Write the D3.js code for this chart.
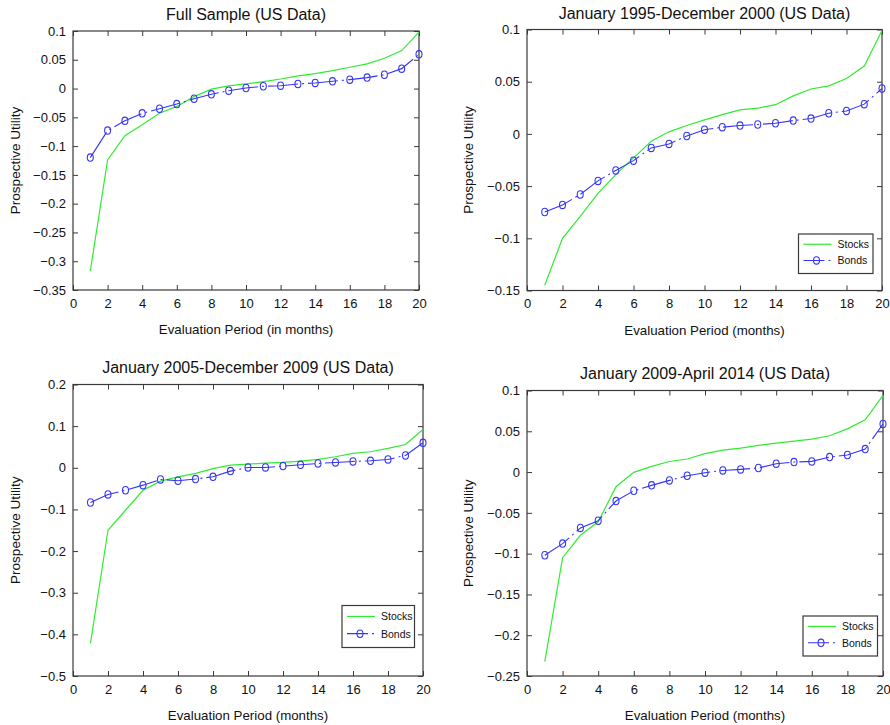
<!DOCTYPE html>
<html><head><meta charset="utf-8">
<script src="https://cdn.jsdelivr.net/npm/d3@7"></script>
<style>
body{margin:0;background:#fff}
svg{display:block}
text{font-family:"Liberation Sans",Arial,Helvetica,sans-serif;fill:#111}
</style>
</head><body>
<svg id="c" width="890" height="725"></svg>
<script>
// ---------- data ----------
const months = [1,2,3,4,5,6,7,8,9,10,11,12,13,14,15,16,17,18,19,20];
const xTickValues = [0,2,4,6,8,10,12,14,16,18,20];
const seriesNames = ["Stocks","Bonds"];

const titles = [
  "Full Sample (US Data)",
  "January 1995-December 2000 (US Data)",
  "January 2005-December 2009 (US Data)",
  "January 2009-April 2014 (US Data)"
];
const xLabels = [
  "Evaluation Period (in months)",
  "Evaluation Period (months)",
  "Evaluation Period (months)",
  "Evaluation Period (months)"
];
const yLabel = "Prospective Utility";

const fullStocks = [-0.317,-0.124,-0.082,-0.063,-0.043,-0.031,-0.014,-0.001,0.0045,0.008,0.012,0.0166,0.022,0.026,0.031,0.037,0.043,0.0526,0.066,0.098];
const fullBonds  = [-0.12,-0.073,-0.056,-0.043,-0.035,-0.027,-0.0176,-0.010,-0.0037,0.001,0.004,0.005,0.008,0.0097,0.0126,0.0155,0.019,0.024,0.0346,0.0595];
const fullYTicks = [0.1,0.05,0,-0.05,-0.1,-0.15,-0.2,-0.25,-0.3,-0.35];
const fullYDomain = [-0.35,0.1];

const p9500Stocks = [-0.145,-0.100,-0.079,-0.057,-0.039,-0.023,-0.007,0.002,0.008,0.0134,0.0185,0.023,0.0246,0.028,0.0364,0.043,0.046,0.053,0.065,0.099];
const p9500Bonds  = [-0.0748,-0.068,-0.058,-0.045,-0.035,-0.0256,-0.0134,-0.0096,-0.002,0.004,0.0064,0.008,0.009,0.0102,0.0128,0.0147,0.0198,0.022,0.0285,0.0435];
const p9500YTicks = [0.1,0.05,0,-0.05,-0.1,-0.15];
const p9500YDomain = [-0.15,0.1];

const p0509Stocks = [-0.421,-0.150,-0.102,-0.054,-0.032,-0.022,-0.0136,-0.002,0.0064,0.0088,0.011,0.0128,0.016,0.020,0.0265,0.0345,0.0385,0.0465,0.056,0.092];
const p0509Bonds  = [-0.0834,-0.064,-0.054,-0.0417,-0.028,-0.031,-0.027,-0.0217,-0.008,0.0008,0.0008,0.004,0.0072,0.0104,0.0128,0.0152,0.0168,0.020,0.0297,0.060];
const p0509YTicks = [0.2,0.1,0,-0.1,-0.2,-0.3,-0.4,-0.5];
const p0509YDomain = [-0.5,0.2];

const p0914Stocks = [-0.2325,-0.105,-0.0775,-0.061,-0.018,-0.0004,0.007,0.013,0.016,0.0226,0.027,0.0294,0.0327,0.0355,0.038,0.0404,0.0445,0.053,0.064,0.094];
const p0914Bonds  = [-0.102,-0.0877,-0.0685,-0.0596,-0.0355,-0.0229,-0.0163,-0.0102,-0.0045,-0.0008,0.002,0.0033,0.005,0.0103,0.0123,0.0131,0.0184,0.0209,0.0282,0.059];
const p0914YTicks = [0.1,0.05,0,-0.05,-0.1,-0.15,-0.2,-0.25];
const p0914YDomain = [-0.25,0.1];

const panelData = [
  {stocks: fullStocks, bonds: fullBonds, yTicks: fullYTicks, yDomain: fullYDomain, legend: false},
  {stocks: p9500Stocks, bonds: p9500Bonds, yTicks: p9500YTicks, yDomain: p9500YDomain, legend: true},
  {stocks: p0509Stocks, bonds: p0509Bonds, yTicks: p0509YTicks, yDomain: p0509YDomain, legend: true},
  {stocks: p0914Stocks, bonds: p0914Bonds, yTicks: p0914YTicks, yDomain: p0914YDomain, legend: true}
];

// ---------- layout (pixels) ----------
const layouts = [
  {x0:73,  x1:419, y0:31,  y1:290, titleY:19.5, yLabX:20,  legend:null},
  {x0:527, x1:882, y0:29.5,y1:290.5, titleY:18.5, yLabX:473, legend:{x:798.5,y:234,w:74.5,h:39.5}},
  {x0:73,  x1:423, y0:384.5, y1:676, titleY:373, yLabX:20,  legend:{x:342,y:605.5,w:72.5,h:42}},
  {x0:527, x1:883, y0:390.5, y1:676, titleY:379, yLabX:473, legend:{x:803,y:616,w:74.5,h:40}}
];

const GREEN = "#30ec30";
const BLUE = "#3535f5";
const AXIS = "#3a3a3a";
const DASH = "30,4,2,4";
const FONT = '"Liberation Sans",Arial,Helvetica,sans-serif';
const fmt = d3.format("~g");

const svg = d3.select("#c");

panelData.forEach((pd, i) => {
  const L = layouts[i];
  const x = d3.scaleLinear().domain([0,20]).range([L.x0, L.x1]);
  const y = d3.scaleLinear().domain(pd.yDomain).range([L.y1, L.y0]);
  const g = svg.append("g");

  // axes with inward ticks
  const bottom = g.append("g").attr("transform", `translate(0,${L.y1})`)
    .call(d3.axisBottom(x).tickValues(xTickValues).tickSizeInner(-5).tickSizeOuter(0).tickPadding(8.5).tickFormat(fmt));
  const top = g.append("g").attr("transform", `translate(0,${L.y0})`)
    .call(d3.axisTop(x).tickValues(xTickValues).tickSizeInner(-5).tickSizeOuter(0).tickFormat(""));
  const left = g.append("g").attr("transform", `translate(${L.x0},0)`)
    .call(d3.axisLeft(y).tickValues(pd.yTicks).tickSizeInner(-5).tickSizeOuter(0).tickPadding(7).tickFormat(fmt));
  const right = g.append("g").attr("transform", `translate(${L.x1},0)`)
    .call(d3.axisRight(y).tickValues(pd.yTicks).tickSizeInner(-5).tickSizeOuter(0).tickFormat(""));
  [bottom, top, left, right].forEach(a => {
    a.select(".domain").remove();
    a.selectAll(".tick line").attr("stroke", AXIS).attr("stroke-width", 1);
    a.selectAll(".tick text").attr("font-size", "13px").attr("fill", "#111")
      .attr("font-family", FONT);
  });

  // box
  g.append("rect").attr("x", L.x0).attr("y", L.y0)
    .attr("width", L.x1 - L.x0).attr("height", L.y1 - L.y0)
    .attr("fill", "none").attr("stroke", AXIS).attr("stroke-width", 1.2);

  // lines
  const line = d3.line().x((d, k) => x(months[k])).y(d => y(d));
  g.append("path").datum(pd.stocks).attr("d", line)
    .attr("fill", "none").attr("stroke", GREEN).attr("stroke-width", 1.2);
  g.append("path").datum(pd.bonds).attr("d", line)
    .attr("fill", "none").attr("stroke", BLUE).attr("stroke-width", 1.1)
    .attr("stroke-dasharray", DASH);
  g.selectAll("ellipse.m").data(pd.bonds).enter().append("ellipse")
    .attr("class", "m")
    .attr("cx", (d, k) => x(months[k])).attr("cy", d => y(d))
    .attr("rx", 3).attr("ry", 3.7)
    .attr("fill", "none").attr("stroke", BLUE).attr("stroke-width", 1.1);

  // texts
  const cx = (L.x0 + L.x1) / 2, cy = (L.y0 + L.y1) / 2;
  g.append("text").attr("x", cx).attr("y", L.titleY).attr("text-anchor", "middle")
    .attr("font-size", "16px").text(titles[i]);
  g.append("text").attr("x", cx).attr("y", L.y1 + 44).attr("text-anchor", "middle")
    .attr("font-size", "13.3px").text(xLabels[i]);
  g.append("text").attr("transform", `translate(${L.yLabX},${cy}) rotate(-90)`)
    .attr("text-anchor", "middle").attr("font-size", "13.5px").text(yLabel);

  // legend
  if (pd.legend && L.legend) {
    const B = L.legend;
    const lg = g.append("g");
    lg.append("rect").attr("x", B.x).attr("y", B.y).attr("width", B.w).attr("height", B.h)
      .attr("fill", "#fff").attr("stroke", AXIS).attr("stroke-width", 1.2);
    const r1 = B.y + B.h * 0.26, r2 = B.y + B.h * 0.67;
    const lx0 = B.x + 5, lx1 = B.x + 33;
    lg.append("line").attr("x1", lx0).attr("x2", lx1).attr("y1", r1).attr("y2", r1)
      .attr("stroke", GREEN).attr("stroke-width", 1.2);
    lg.append("line").attr("x1", lx0).attr("x2", lx1).attr("y1", r2).attr("y2", r2)
      .attr("stroke", BLUE).attr("stroke-width", 1.1)
      .attr("stroke-dasharray", "21,4,2,40");
    lg.append("ellipse").attr("cx", (lx0 + lx1) / 2 - 1).attr("cy", r2).attr("rx", 3).attr("ry", 3.7)
      .attr("fill", "none").attr("stroke", BLUE).attr("stroke-width", 1.1);
    lg.append("text").attr("x", B.x + 39).attr("y", r1 + 4).attr("font-size", "10.5px").text(seriesNames[0]);
    lg.append("text").attr("x", B.x + 39).attr("y", r2 + 4).attr("font-size", "10.5px").text(seriesNames[1]);
  }
});
</script>
</body></html>
